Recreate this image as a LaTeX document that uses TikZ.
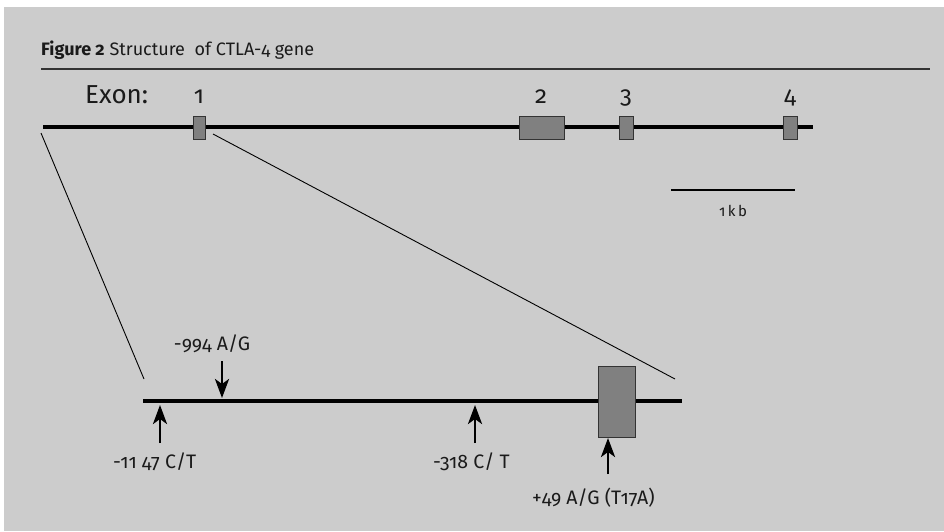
\documentclass[tikz,border=0pt]{standalone}
\usepackage{fontspec}
\setmainfont{Fira Sans}[Numbers=OldStyle]
\usetikzlibrary{arrows.meta}
\definecolor{panel}{HTML}{CCCCCC}
\definecolor{exonfill}{HTML}{808080}
\definecolor{rulecol}{HTML}{333333}
\definecolor{inkcol}{HTML}{1A1A1A}
\tikzset{
  exonbox/.style={draw=rulecol, line width=0.8pt, fill=exonfill, inner sep=0pt},
  geneline/.style={line width=3.2pt, black},
  zoomline/.style={line width=0.9pt, black},
  snp/.style={line width=2.8pt, -{Stealth[length=19pt, width=14pt, inset=5pt]}},
  lbl/.style={inner sep=0pt, text=inkcol, font=\fontsize{19.5}{23}\selectfont},
  exnum/.style={anchor=base, inner sep=0pt, text=inkcol, font=\fontsize{24}{28}\selectfont},
}
\begin{document}
\begin{tikzpicture}[x=1pt, y=-1pt]
  \useasboundingbox (0,0) rectangle (944,531);
  \fill[white] (0,0) rectangle (944,531);
  \fill[panel] (4,7) rectangle (944,531);

  % caption and rule
  \node[anchor=base west, inner sep=0pt, text=inkcol, font=\fontsize{18}{21}\selectfont] (cap) at (41,55)
    {\textbf{Figure 2} Structure\ \ of CTLA-4 gene};
  \draw[rulecol, line width=2.6pt] (41,69) coordinate (r0) -- (930,69) coordinate (r1);

  % full gene
  \coordinate (g0) at (43,127);
  \coordinate (g1) at (813,127);
  \draw[geneline] (g0) -- (g1);
  \node[exonbox, minimum width=12pt, minimum height=23pt] (e1) at (199,127.5) {};
  \node[exonbox, minimum width=45pt, minimum height=23pt] (e2) at (541.5,127.5) {};
  \node[exonbox, minimum width=14pt, minimum height=23pt] (e3) at (626,127.5) {};
  \node[exonbox, minimum width=14pt, minimum height=23pt] (e4) at (790,127.5) {};

  \node[anchor=base west, inner sep=0pt, text=inkcol, font=\fontsize{26}{30}\selectfont] (exon) at (85,103) {Exon:};
  \node[exnum] (n1) at (199,103) {1};
  \node[exnum] (n2) at (541,103) {2};
  \node[exnum] (n3) at (626,103) {3};
  \node[exnum] (n4) at (790,103) {4};

  % scale bar
  \coordinate (s0) at (671,190);
  \coordinate (s1) at (795,190);
  \draw[line width=2.6pt] (s0) -- (s1);
  \node[anchor=base, inner sep=0pt, text=inkcol, font=\fontsize{15}{18}\selectfont] (kb) at (733,216) {1\,k\,b};

  % enlarged exon 1 region
  \coordinate (z0) at (143,401);
  \coordinate (z1) at (682,401);
  \draw[line width=4pt] (z0) -- (z1);
  \node[exonbox, minimum width=37pt, minimum height=71pt] (ex) at (616.5,401.5) {};

  % zoom lines
  \coordinate (za) at (41,133);
  \coordinate (zb) at (144,379);
  \coordinate (zc) at (213,134);
  \coordinate (zd) at (675,379);
  \draw[zoomline] (za) -- (zb);
  \draw[zoomline] (zc) -- (zd);

  % polymorphisms
  \coordinate (a1s) at (222,361);
  \coordinate (a1e) at (222,398);
  \draw[snp] (a1s) -- (a1e);
  \node[lbl, anchor=base] (t1) at (212,350) {-994 A/G};

  \coordinate (a2s) at (160,443);
  \coordinate (a2e) at (160,405);
  \draw[snp] (a2s) -- (a2e);
  \node[lbl, anchor=base west] (t2) at (113,468) {-11 47 C/T};

  \coordinate (a3s) at (475,443);
  \coordinate (a3e) at (475,405);
  \draw[snp] (a3s) -- (a3e);
  \node[lbl, anchor=base west] (t3) at (433,468) {-318 C/ T};

  \coordinate (a4s) at (608,474);
  \coordinate (a4e) at (608,438);
  \draw[snp] (a4s) -- (a4e);
  \node[lbl, anchor=base west] (t4) at (532,504) {+49 A/G (T17A)};
\end{tikzpicture}
\end{document}
